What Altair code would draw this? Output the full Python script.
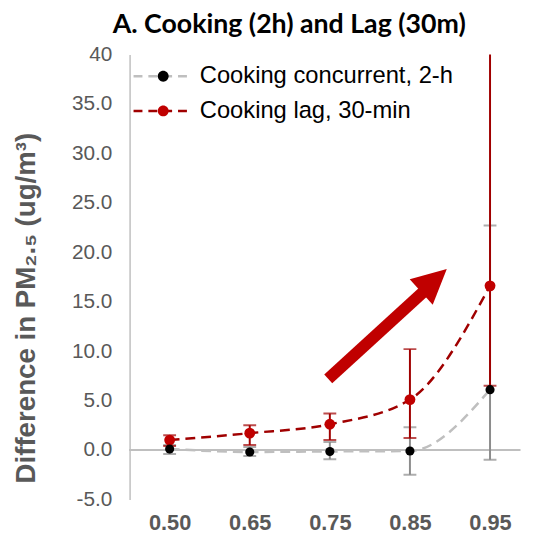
import json
import altair as alt
import pandas as pd

# ---- data ----
x_labels = ["0.50", "0.65", "0.75", "0.85", "0.95"]
x_pos = [0, 1, 2, 3, 4]
series_names = ["Cooking concurrent, 2-h", "Cooking lag, 30-min"]

conc_mean = [0.1, -0.2, -0.15, -0.1, 6.1]
conc_lo = [-0.4, -0.6, -0.95, -2.5, -1.0]
conc_hi = [0.5, 0.3, 0.8, 2.3, 22.7]

lag_mean = [1.0, 1.7, 2.6, 5.1, 16.6]
lag_lo = [0.4, 0.5, 1.0, 1.2, 6.5]
lag_hi = [1.5, 2.5, 3.7, 10.2, 45.0]

y_ticks = [-5, 0, 5, 10, 15, 20, 25, 30, 35, 40]

# annotation arrow (x index, y value)
arrow_x = [1.98, 3.25]
arrow_y = [7.2, 16.6]
arrow_tip_x = [3.46]
arrow_tip_y = [18.3]

# ---- tables ----
pt_names = [n + " " for n in series_names]  # separate legend domain for the dots
rows = []
for k, m, lo, hi in [(1, lag_mean, lag_lo, lag_hi), (0, conc_mean, conc_lo, conc_hi)]:
    for i in range(len(x_pos)):
        rows.append({"x": x_pos[i], "series": series_names[k], "series_pt": pt_names[k],
                     "mean": m[i], "lo": lo[i], "hi": hi[i]})
df = pd.DataFrame(rows)
arrow_df = pd.DataFrame({"x": arrow_x, "y": arrow_y})
tip_df = pd.DataFrame({"x": arrow_tip_x, "y": arrow_tip_y})

AX_FONT = "Liberation Sans"
xlab_expr = json.dumps(x_labels) + "[datum.value]"

x_enc = alt.X("x:Q",
              scale=alt.Scale(domain=[-0.5, 4.375], nice=False, zero=False),
              axis=alt.Axis(values=x_pos, labelExpr=xlab_expr, title=None,
                            domain=False, ticks=False, grid=False,
                            labelFont=AX_FONT, labelFontSize=22,
                            labelFontWeight="bold", labelColor="#595959",
                            labelPadding=13))
y_scale = alt.Scale(domain=[-5, 40], nice=False, zero=False)
y_axis = alt.Axis(values=y_ticks,
                  labelExpr="datum.value == 40 ? '40' : replace(format(datum.value, '.1f'), '\u2212', '-')",
                  title="Difference in PM₂.₅ (ug/m³)", titleFont=AX_FONT,
                  titleFontSize=28, titleFontWeight="bold", titleColor="#595959",
                  titlePadding=31, titleY=256,
                  domain=True, domainColor="#BFBFBF", domainWidth=1.5,
                  ticks=False, grid=False, labelFont=AX_FONT, labelFontSize=21,
                  labelColor="#595959", labelPadding=18)

base = alt.Chart(df)

zero = alt.Chart(df).mark_rule(color="#BFBFBF", strokeWidth=2).encode(
    y=alt.datum(0, scale=y_scale, axis=y_axis))

def bars(name, color):
    b = base.transform_filter(alt.datum.series == name)
    r = b.mark_rule(color=color, strokeWidth=2, clip=True).encode(
        x=x_enc, y=alt.Y("lo:Q", scale=y_scale, axis=y_axis), y2="hi:Q")
    lo = b.mark_tick(color=color, orient="horizontal", size=13, thickness=2,
                     clip=True).encode(x=x_enc, y=alt.Y("lo:Q", scale=y_scale))
    hi = b.mark_tick(color=color, orient="horizontal", size=13, thickness=2,
                     clip=True).encode(x=x_enc, y=alt.Y("hi:Q", scale=y_scale))
    return r + lo + hi

gray_bars = bars(series_names[0], "#8C8C8C")
red_bars = bars(series_names[1], "#A00000")

LEG_X, LEG_Y = 22, 10

lines = base.mark_line(strokeWidth=2.5, strokeDash=[10, 6],
                       interpolate="monotone").encode(
    x=x_enc, y=alt.Y("mean:Q", scale=y_scale, axis=y_axis),
    stroke=alt.Stroke("series:N",
                      scale=alt.Scale(domain=series_names,
                                      range=["#BFBFBF", "#A00000"]),
                      legend=alt.Legend(orient="none", legendX=LEG_X, legendY=LEG_Y,
                                        title=None, symbolType="M-3,0H3",
                                        symbolSize=400, symbolStrokeWidth=2.5,
                                        symbolDash=[9, 6], labelFont=AX_FONT,
                                        labelFontSize=24, labelColor="black",
                                        labelOffset=25, labelLimit=400,
                                        rowPadding=11, padding=0)),
    detail="series:N")

pt_legend = alt.Legend(orient="none", legendX=LEG_X, legendY=LEG_Y, title=None,
                       symbolType="M-0.55,0A0.55,0.55,0,1,1,0.55,0A0.55,0.55,0,1,1,-0.55,0Z",
                       symbolSize=400, symbolStrokeWidth=2.5,
                       symbolStrokeColor="transparent",
                       labelFont=AX_FONT, labelFontSize=24,
                       labelColor="transparent", labelOffset=25, labelLimit=400,
                       rowPadding=11, padding=0)
fill_scale = alt.Scale(domain=pt_names, range=["#000000", "#C00000"])

red_pts = base.transform_filter(alt.datum.series == series_names[1]).mark_point(
    filled=True, opacity=1, size=120).encode(
    x=x_enc, y=alt.Y("mean:Q", scale=y_scale),
    fill=alt.Fill("series_pt:N", scale=fill_scale, legend=pt_legend))
blk_pts = base.transform_filter(alt.datum.series == series_names[0]).mark_point(
    filled=True, opacity=1, size=85).encode(
    x=x_enc, y=alt.Y("mean:Q", scale=y_scale),
    fill=alt.Fill("series_pt:N", scale=fill_scale, legend=pt_legend))

shaft = alt.Chart(arrow_df).mark_line(color="#C00000", strokeWidth=12,
                                      strokeCap="butt").encode(
    x=x_enc, y=alt.Y("y:Q", scale=y_scale))
head = alt.Chart(tip_df).mark_point(shape="M0,0L1,2L-1,2Z", filled=True,
                                    opacity=1, color="#C00000", size=1210,
                                    angle=48).encode(
    x=x_enc, y=alt.Y("y:Q", scale=y_scale))

chart = alt.layer(zero, gray_bars, red_bars, lines, red_pts, blk_pts, shaft, head).properties(
    width=395, height=450,
    padding={"left": 5, "top": 0, "right": 5, "bottom": 5},
    title=alt.TitleParams("A. Cooking (2h) and Lag (30m)", font="Lato",
                          fontSize=27, fontWeight="bold", color="black",
                          anchor="middle", frame="group", dx=-36, offset=5),
).configure_view(stroke=None)

chart.save("out.html", embed_options={"renderer": "svg", "actions": False})
